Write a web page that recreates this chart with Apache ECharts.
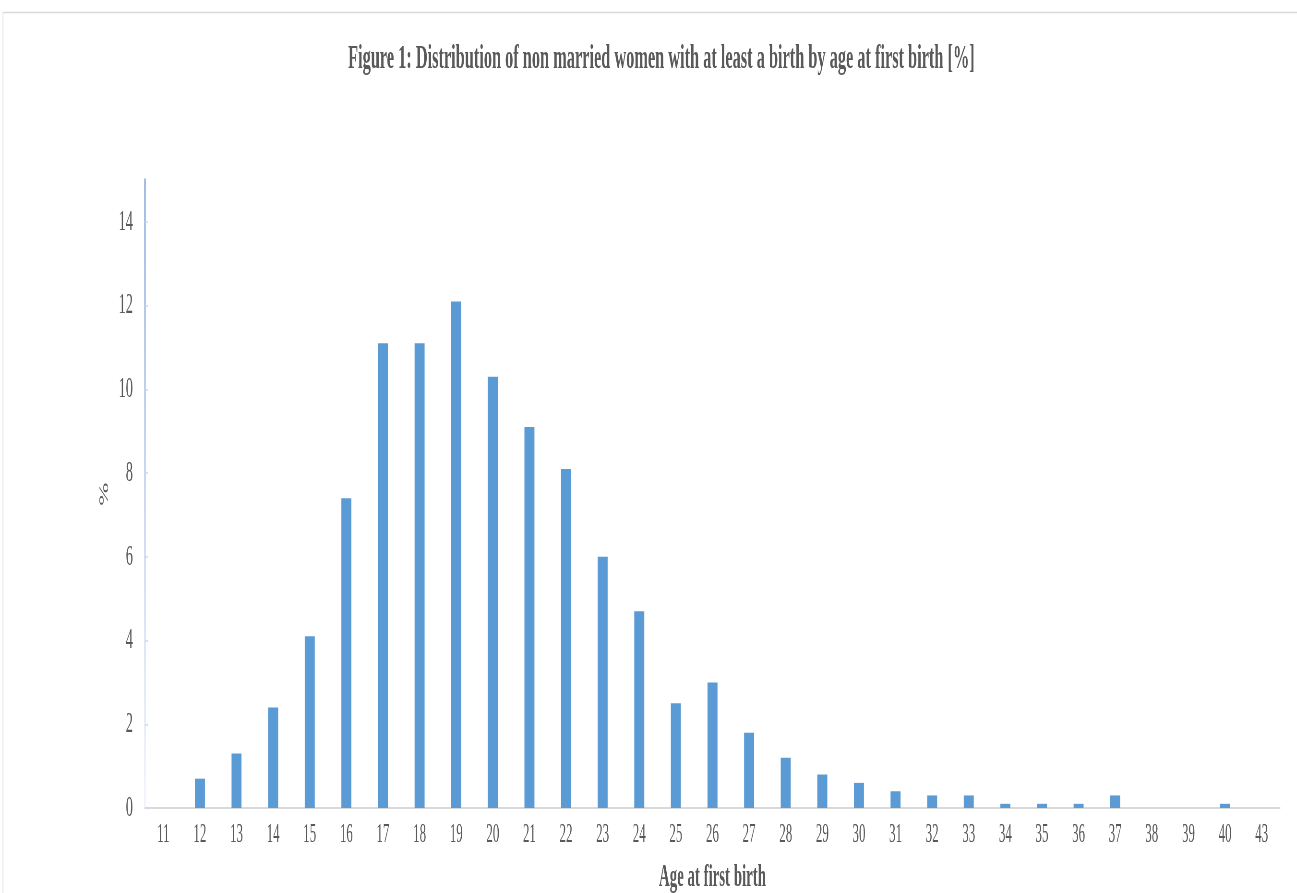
<!DOCTYPE html>
<html>
<head>
<meta charset="utf-8">
<script src="https://cdn.jsdelivr.net/npm/echarts@6/dist/echarts.min.js"></script>
<style>
html,body{margin:0;padding:0;background:#fff;overflow:hidden;}
#wrap{width:1297px;height:893px;overflow:hidden;position:relative;}
#chart{position:absolute;left:0;top:0;height:893px;transform-origin:0 0;}
</style>
</head>
<body>
<div id="wrap"><div id="chart"></div></div>
<script>
// Data
const categories = ['11','12','13','14','15','16','17','18','19','20','21','22','23','24','25','26','27','28','29','30','31','32','33','34','35','36','37','38','39','40','43'];
const values = [0,0.7,1.3,2.4,4.1,7.4,11.1,11.1,12.1,10.3,9.1,8.1,6.0,4.7,2.5,3.0,1.8,1.2,0.8,0.6,0.4,0.3,0.3,0.1,0.1,0.1,0.3,0,0,0.1,0];
const yTicks = [0,2,4,6,8,10,12,14];

// Horizontal condensation of the whole figure (the reference is squeezed horizontally)
const S = 0.48;
const W = 1297 / S;
const el = document.getElementById('chart');
el.style.width = W + 'px';
el.style.transform = 'scaleX(' + S + ')';

const chart = echarts.init(el, null, {renderer: 'canvas'});
const font = 'Liberation Serif';
const txt = '#595959';

chart.setOption({
  animation: false,
  backgroundColor: '#fff',
  title: {
    text: 'Figure 1: Distribution of non married women with at least a birth by age at first birth [%]',
    left: 659 / S,
    top: 37,
    textAlign: 'center',
    textStyle: {fontFamily: font, fontWeight: 'bold', fontSize: 34, color: txt}
  },
  graphic: [{
    type: 'rect',
    silent: true,
    shape: {x: 3 / S, y: 12.5, width: W, height: 1000},
    style: {fill: 'none', stroke: '#d9d9d9', lineWidth: 1.5}
  }],
  grid: {left: 145 / S, right: 17 / S, top: 180, bottom: 85, containLabel: false, outerBoundsMode: 'none'},
  xAxis: {
    type: 'category',
    data: categories,
    name: 'Age at first birth',
    nameLocation: 'middle',
    nameGap: 54,
    nameTextStyle: {fontFamily: font, fontWeight: 'bold', fontSize: 31, color: txt, verticalAlign: 'top'},
    axisLine: {lineStyle: {color: '#d9d9d9', width: 2}},
    axisTick: {show: false},
    axisLabel: {fontFamily: font, fontSize: 27, color: txt, margin: 13, interval: 0}
  },
  yAxis: {
    type: 'value',
    min: 0,
    max: 15,
    interval: 1,
    name: '%',
    nameLocation: 'middle',
    nameGap: 70,
    nameRotate: 90,
    nameTextStyle: {fontFamily: font, fontSize: 28, color: txt},
    axisLine: {
      show: true,
      lineStyle: {
        width: 4,
        color: new echarts.graphic.LinearGradient(0, 0, 0, 1, [
          {offset: 0, color: '#a4bce6'},
          {offset: 1, color: '#f3f6fc'}
        ])
      }
    },
    axisTick: {show: true, inside: true, length: 6, lineStyle: {color: '#c9d7f0', width: 1.5}, customValues: yTicks},
    axisLabel: {fontFamily: font, fontSize: 30, color: txt, margin: 25, customValues: yTicks},
    splitLine: {show: false}
  },
  series: [{
    type: 'bar',
    data: values,
    barWidth: 10 / S,
    itemStyle: {color: '#5b9bd5'}
  }]
});
</script>
</body>
</html>
